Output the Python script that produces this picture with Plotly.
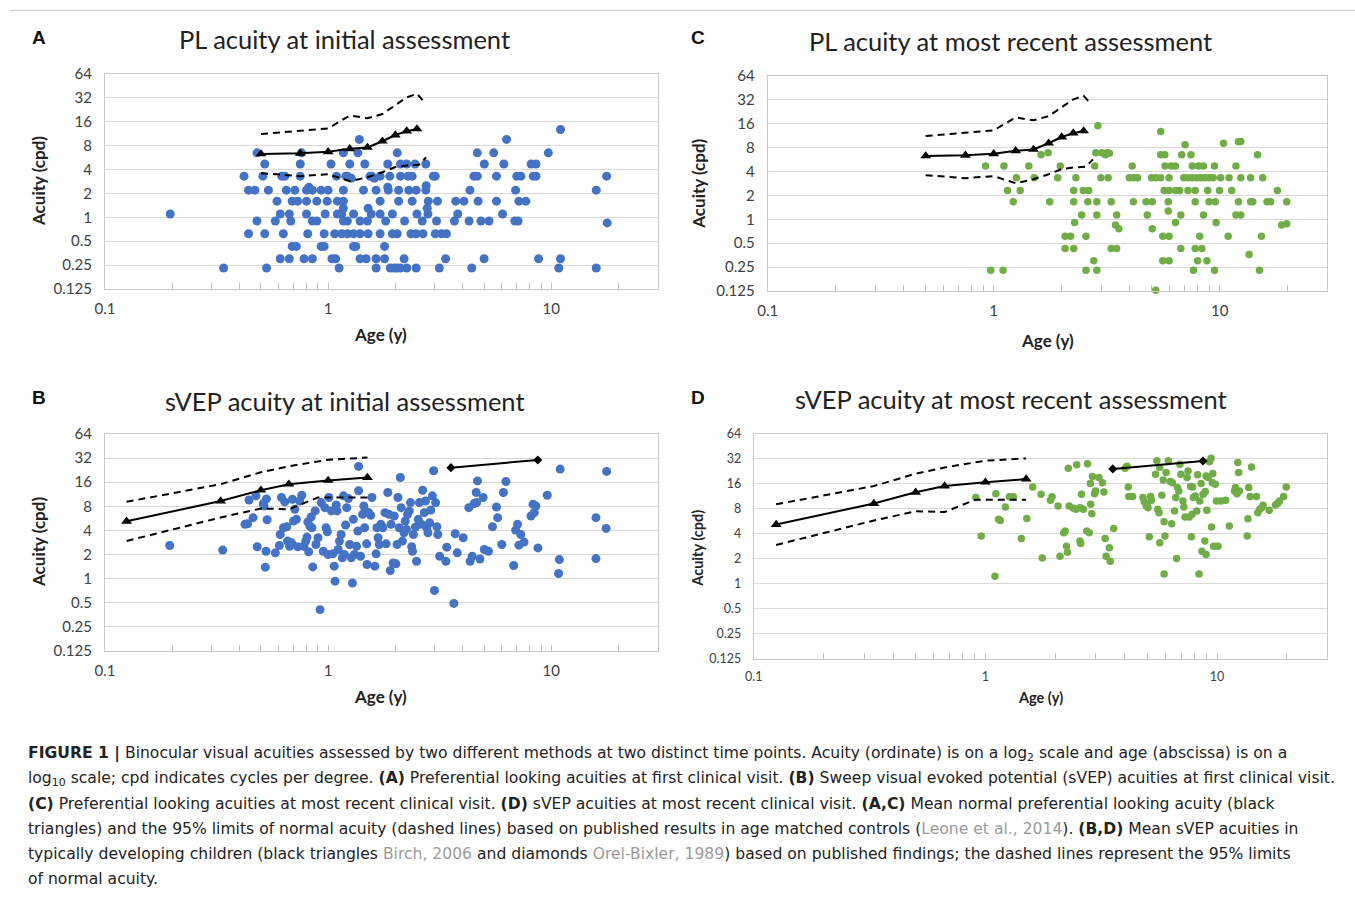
import plotly.graph_objects as go

W, H = 1355, 897

# ---------------- data ----------------
pl_norm_age = [0.5, 0.75, 1.0, 1.25, 1.5, 1.75, 2.0, 2.25, 2.5]
pl_norm_mean = [6.3, 6.4, 6.7, 7.3, 7.6, 9.1, 10.9, 12.2, 13.0]
pl_upper_age = [0.5, 1.0, 1.25, 1.5, 1.75, 2.25, 2.5, 2.65]
pl_upper = [11.2, 13.2, 19.2, 17.7, 20.0, 32.5, 36.0, 30.0]
pl_lower_age = [0.5, 0.75, 1.0, 1.25, 1.5, 1.75, 2.0, 2.25, 2.55, 2.75]
pl_lower = [3.6, 3.3, 3.5, 2.85, 3.2, 3.7, 4.3, 4.5, 4.6, 5.7]

svep_norm_age = [0.125, 0.33, 0.5, 0.667, 1.0, 1.5]
svep_norm_mean = [5.2, 9.3, 12.7, 15.1, 16.8, 18.3]
svep_upper = [9.1, 15.1, 21.3, 25.3, 30.5, 32.5]
svep_lower_age = [0.125, 0.33, 0.5, 0.667, 0.9, 1.5]
svep_lower = [2.95, 5.8, 7.5, 7.35, 10.3, 10.3]
orel_age = [3.55, 8.7]
orel_acuity = [24.3, 30.3]

a_age = [11.0,
         1.38, 6.3,
         0.48, 0.76, 1.17, 1.36, 2.04, 4.66, 5.52, 9.7,
         0.52, 0.75, 1.03, 1.25, 1.46, 1.85, 2.11, 2.25, 2.45, 2.74, 5.01, 6.13, 8.12, 8.54,
         0.42, 0.51, 0.62, 0.64, 0.75, 1.09, 1.2, 1.22, 1.54, 1.57, 1.71, 1.89, 2.11, 2.28, 2.38, 2.96, 3.02, 4.5, 4.66, 5.68, 7.0, 7.31, 8.3, 8.54, 17.7,
         1.27, 1.61,
         0.82, 1.85, 2.75,
         0.44, 0.47, 0.54, 0.65, 0.71, 0.8, 0.85, 0.93, 1.0, 1.17, 1.44, 1.64, 1.86, 2.07, 2.3, 2.48, 2.74, 4.32, 6.92, 15.9,
         0.59, 0.69, 0.73, 0.8, 0.89, 0.99, 1.1, 1.17, 1.71, 2.07, 2.38, 2.81, 3.09, 3.73, 4.06, 4.7, 5.68, 7.16, 7.69,
         1.17, 1.51, 2.78,
         0.196, 0.61, 0.67, 0.8, 0.97, 1.1, 1.15, 1.3, 1.56, 1.71, 1.94, 2.5, 2.8, 3.81, 6.05,
         0.48, 0.58, 0.68, 0.85, 0.89, 1.17, 1.22, 1.39, 1.5, 1.81, 2.2, 2.64, 3.06, 3.68, 4.28, 4.84, 5.26, 6.86, 7.1,
         17.8,
         0.44, 0.52, 0.63, 0.81, 0.96, 1.07, 1.15, 1.22, 1.3, 1.39, 1.51, 1.71, 1.94, 2.04, 2.35, 2.48, 2.66, 3.02, 3.22, 3.39,
         0.69, 0.72, 0.93, 0.96, 1.3, 1.33, 1.79,
         0.61, 0.67, 0.78, 0.85, 1.04, 1.08, 1.39, 1.48, 1.64, 1.79, 2.19, 3.36, 5.0, 8.77, 11.0,
         0.34, 0.53, 1.12, 1.64, 1.9, 1.98, 2.04, 2.11, 2.25, 2.48, 3.15, 4.4, 10.8, 15.9]
a_acu = [12.8,
         9.6, 9.6,
         6.5, 6.5, 6.5, 6.5, 6.5, 6.5, 6.5, 6.5,
         4.7, 4.7, 4.7, 4.7, 4.7, 4.7, 4.7, 4.7, 4.7, 4.7, 4.7, 4.7, 4.7, 4.7,
         3.3, 3.3, 3.3, 3.3, 3.3, 3.3, 3.3, 3.3, 3.3, 3.3, 3.3, 3.3, 3.3, 3.3, 3.3, 3.3, 3.3, 3.3, 3.3, 3.3, 3.3, 3.3, 3.3, 3.3, 3.3,
         3.1, 3.1,
         2.4, 2.4, 2.5,
         2.2, 2.2, 2.2, 2.2, 2.2, 2.2, 2.2, 2.2, 2.2, 2.2, 2.2, 2.2, 2.2, 2.2, 2.2, 2.2, 2.2, 2.2, 2.2, 2.2,
         1.6, 1.6, 1.6, 1.6, 1.6, 1.6, 1.6, 1.6, 1.6, 1.6, 1.6, 1.6, 1.6, 1.6, 1.6, 1.6, 1.6, 1.6, 1.6,
         1.3, 1.3, 1.3,
         1.1, 1.1, 1.1, 1.1, 1.1, 1.1, 1.1, 1.1, 1.1, 1.1, 1.1, 1.1, 1.1, 1.1, 1.1,
         0.9, 0.9, 0.9, 0.9, 0.9, 0.9, 0.9, 0.9, 0.9, 0.9, 0.9, 0.9, 0.9, 0.9, 0.9, 0.9, 0.9, 0.9, 0.9,
         0.85,
         0.62, 0.62, 0.62, 0.62, 0.62, 0.62, 0.62, 0.62, 0.62, 0.62, 0.62, 0.62, 0.62, 0.62, 0.62, 0.62, 0.62, 0.62, 0.62, 0.62,
         0.43, 0.43, 0.43, 0.43, 0.43, 0.43, 0.43,
         0.30, 0.30, 0.30, 0.30, 0.30, 0.30, 0.30, 0.30, 0.30, 0.30, 0.30, 0.30, 0.30, 0.30, 0.30,
         0.23, 0.23, 0.23, 0.23, 0.23, 0.23, 0.23, 0.23, 0.23, 0.23, 0.23, 0.23, 0.23, 0.23]

b_age = [0.195, 0.337, 0.424, 0.436, 0.442, 0.461, 0.475, 0.481, 0.512, 0.516, 0.527, 0.529, 0.533, 0.523,
         0.58, 0.605, 0.61, 0.618, 0.631, 0.639, 0.653, 0.658, 0.672, 0.686, 0.692, 0.7, 0.709, 0.721, 0.731,
         0.746, 0.762, 0.778, 0.794, 0.804, 0.811, 0.818, 0.828, 0.839, 0.846, 0.853, 0.875, 0.882, 0.901,
         0.92, 0.931, 0.951, 0.967, 0.979, 0.992, 1.0, 1.008, 1.034, 1.051, 1.065, 1.074, 1.087, 1.096, 1.11,
         1.124, 1.143, 1.158, 1.172, 1.182, 1.197, 1.212, 1.233, 1.249, 1.27, 1.285, 1.297, 1.313, 1.34, 1.358,
         1.369, 1.369, 1.397, 1.427, 1.445, 1.457, 1.47, 1.488, 1.494, 1.52, 1.552, 1.571, 1.619, 1.64, 1.653,
         1.674, 1.695, 1.723, 1.759, 1.797, 1.82, 1.85, 1.874, 1.898, 1.914, 1.955, 1.978, 2.012, 2.037, 2.055,
         2.081, 2.107, 2.124, 2.151, 2.187, 2.215, 2.243, 2.27, 2.31, 2.339, 2.368, 2.388, 2.409, 2.46, 2.49,
         2.535, 2.564, 2.618, 2.652, 2.697, 2.731, 2.766, 2.801, 2.848, 2.884, 2.933, 2.97, 2.995, 3.03, 3.07,
         3.1, 3.16, 3.37, 3.4, 3.66, 3.71, 3.79, 4.03, 4.27, 4.33, 4.42, 4.51, 4.63, 4.67, 4.61, 4.79, 4.95,
         5.01, 5.23, 5.45, 5.68, 5.75, 6.0, 6.1, 6.26, 6.78, 6.92, 7.06, 7.16, 7.3, 7.55, 8.11, 8.28, 8.39,
         8.53, 8.71, 9.59, 10.78, 10.87, 10.96, 15.85, 15.85, 17.6, 17.7]
b_acu = [2.59, 2.27, 4.76, 4.85, 9.6, 5.77, 10.8, 2.5, 8.64, 8.08, 2.2, 9.9, 5.44, 1.39,
         2.1, 2.59, 3.56, 10.3, 4.32, 9.07, 4.45, 2.94, 2.54, 2.8, 9.8, 5.24, 7.34, 5.5, 2.5,
         9.33, 11.0, 2.54, 2.94, 3.3, 5.09, 2.16, 4.53, 5.88, 4.32, 1.4, 7.0, 2.67, 3.24,
         0.41, 8.9, 2.2, 7.7, 4.32, 3.85, 2.0, 10.3, 7.0, 2.04, 1.43, 0.93, 8.3, 7.0, 2.31,
         2.94, 3.56, 1.82, 10.8, 2.0, 4.67, 7.7, 9.98, 2.67, 1.82, 0.88, 5.5, 2.0, 2.54, 3.92,
         25.2, 12.5, 1.9, 6.35, 8.08, 4.32, 7.0, 2.72, 1.5, 6.66, 6.17, 10.3, 1.43, 2.04, 4.32,
         3.24, 2.67, 4.76, 4.32, 6.66, 2.72, 11.9, 6.35, 1.26, 4.76, 1.57, 6.05, 1.53, 2.67, 10.3,
         4.32, 18.3, 7.7, 2.94, 3.74, 5.24, 4.12, 6.35, 7.0, 8.9, 2.5, 2.2, 3.56, 4.4, 1.65,
         5.5, 8.9, 4.76, 12.7, 6.66, 9.33, 4.32, 3.74, 4.99, 7.2, 10.8, 22.2, 0.71, 8.9, 4.45,
         3.56, 1.9, 1.65, 2.47, 0.49, 3.63, 2.1, 3.24, 7.7, 1.65, 1.9, 8.64, 8.9, 16.6, 11.9, 1.76, 10.3,
         2.31, 2.2, 4.45, 7.85, 5.77, 2.67, 11.9, 16.3, 1.46, 4.04, 4.76, 2.62, 3.56, 2.86, 6.05, 8.47, 6.66,
         8.08, 2.42, 11.0, 1.16, 1.73, 23.3, 5.77, 1.78, 4.24, 21.8]

c_age = [2.89, 5.48, 10.4, 12.1, 12.4, 7.03,
         1.62, 1.74, 2.83, 3.01, 3.17, 3.25, 3.12, 5.48, 5.72, 6.79, 7.46, 14.7,
         0.92, 1.11, 1.43, 1.97, 2.8, 4.1, 5.73, 6.1, 6.37, 7.56, 8.06, 8.48, 9.48, 11.8,
         1.26, 1.51, 1.92, 2.31, 2.98, 3.21, 3.98, 4.15, 4.33, 4.99, 5.21, 5.48, 5.97, 6.94, 7.24, 7.56,
         7.89, 8.23, 8.59, 8.97, 9.36, 10.1, 11.0, 12.4, 13.7, 15.5,
         1.15, 1.31, 2.26, 2.49, 2.63, 5.68, 5.97, 6.37, 6.65, 7.24, 7.79, 8.85, 9.98, 11.3, 18.0,
         1.22, 1.77, 2.26, 2.61, 2.86, 3.31, 4.15, 4.72, 5.03, 5.92, 7.79, 8.97, 9.56, 12.1, 13.7, 14.0,
         16.2, 16.8, 19.8,
         5.92,
         2.45, 2.86, 3.5, 4.78, 6.73, 8.48, 11.8, 12.4,
         2.28, 6.37, 9.64, 18.8, 19.8, 3.46, 3.58, 5.03,
         2.07, 2.19, 2.56, 5.6, 5.97, 8.16, 10.9, 15.3,
         2.07, 2.26, 3.31, 3.5, 6.73, 7.79, 8.34,
         2.77, 5.6, 5.97, 7.99, 8.78, 13.5,
         0.97, 1.1, 2.56, 2.86, 7.66, 9.48, 15.0,
         5.21]
c_acu = [15.1, 12.8, 9.1, 9.5, 9.6, 8.7,
         6.5, 6.9, 6.9, 6.9, 6.9, 6.8, 6.5, 6.5, 6.5, 6.5, 6.5, 6.5,
         4.7, 4.7, 4.7, 4.7, 4.7, 4.7, 4.7, 4.7, 4.7, 4.7, 4.7, 4.7, 4.7, 4.7,
         3.35, 3.35, 3.35, 3.35, 3.35, 3.35, 3.35, 3.35, 3.35, 3.35, 3.35, 3.35, 3.35, 3.35, 3.35, 3.35,
         3.35, 3.35, 3.35, 3.35, 3.35, 3.35, 3.35, 3.35, 3.35, 3.35,
         2.3, 2.3, 2.3, 2.3, 2.3, 2.3, 2.3, 2.3, 2.3, 2.3, 2.3, 2.3, 2.3, 2.3, 2.3,
         1.66, 1.66, 1.66, 1.66, 1.66, 1.66, 1.66, 1.66, 1.66, 1.66, 1.66, 1.66, 1.66, 1.66, 1.66, 1.66,
         1.66, 1.66, 1.66,
         1.27,
         1.13, 1.13, 1.13, 1.13, 1.13, 1.13, 1.13, 1.13,
         0.91, 0.91, 0.91, 0.85, 0.88, 0.85, 0.76, 0.76,
         0.61, 0.61, 0.61, 0.61, 0.61, 0.61, 0.61, 0.61,
         0.43, 0.43, 0.43, 0.43, 0.43, 0.43, 0.43,
         0.30, 0.30, 0.30, 0.30, 0.30, 0.36,
         0.228, 0.228, 0.228, 0.228, 0.228, 0.228, 0.228,
         0.128]

d_age = [0.91, 0.96, 1.10, 1.11, 1.14, 1.16, 1.22, 1.27, 1.32, 1.43, 1.51, 1.60, 1.74, 1.76, 1.91,
         1.94, 2.06, 2.10, 2.18, 2.21, 2.24, 2.26, 2.28, 2.30, 2.40, 2.46, 2.48, 2.56, 2.56, 2.58,
         2.60, 2.65, 2.74, 2.76, 2.81, 2.84, 2.85, 2.88, 2.90, 2.96, 2.99, 3.09, 3.20, 3.25, 3.29,
         3.32, 3.43, 3.46, 3.58, 4.01, 4.09, 4.14, 4.16, 4.32, 4.79, 4.85, 4.95, 5.00, 5.04, 5.10,
         5.17, 5.21, 5.43, 5.50, 5.55, 5.62, 5.66, 5.66, 5.78, 5.86, 5.91, 5.91, 5.96, 6.03, 6.16,
         6.29, 6.37, 6.42, 6.56, 6.64, 6.69, 6.75, 6.84, 6.92, 6.98, 7.13, 7.19, 7.28, 7.43, 7.50,
         7.59, 7.69, 7.75, 7.81, 7.85, 7.91, 8.05, 8.18, 8.25, 8.36, 8.43, 8.54, 8.61, 8.71, 8.86,
         8.90, 8.97, 8.97, 9.04, 9.16, 9.28, 9.43, 9.47, 9.55, 9.59, 9.67, 9.83, 9.95, 10.1, 10.4,
         10.9, 11.3, 11.9, 12.0, 12.2, 12.3, 12.4, 12.5, 13.5, 13.6, 13.7, 14.1, 13.9, 14.8, 15.0,
         15.3, 15.6, 15.8, 16.8, 17.9, 18.3, 18.6, 19.4, 19.9]
d_acu = [11.0, 3.77, 1.24, 12.2, 6.0, 5.83, 8.45, 11.2, 11.2, 3.53, 6.16, 14.7, 12.0, 2.06, 10.2,
         11.2, 8.69, 2.16, 4.14, 4.33, 2.85, 2.41, 24.8, 8.69, 8.14, 7.92, 27.2, 8.30, 3.28, 3.07,
         12.0, 7.92, 4.33, 28.0, 4.14, 16.2, 9.10, 7.02, 19.7, 12.2, 13.2, 19.1, 16.6, 12.8, 3.53,
         2.16, 2.72, 1.88, 4.67, 24.8, 26.2, 14.7, 11.3, 11.3, 11.0, 9.80, 8.69, 9.27, 8.30, 3.70,
         11.3, 10.2, 21.0, 30.4, 7.92, 7.22, 3.13, 25.3, 11.7, 17.8, 1.32, 5.62, 3.77, 22.0, 30.4,
         17.1, 5.31, 16.6, 7.56, 11.0, 2.02, 14.5, 13.2, 27.7, 21.0, 9.99, 8.45, 6.40, 19.1, 23.0,
         6.40, 14.9, 3.70, 6.89, 14.7, 11.0, 11.5, 7.56, 20.6, 1.32, 9.99, 16.2, 2.48, 12.0, 3.28,
         13.0, 2.26, 20.0, 7.70, 19.1, 29.6, 32.7, 4.84, 16.6, 21.4, 2.85, 15.9, 9.99, 2.85, 9.99,
         10.2, 4.98, 13.2, 14.5, 12.2, 29.0, 22.0, 13.2, 3.77, 6.11, 14.5, 25.7, 11.3, 11.3, 7.22,
         7.92, 8.30, 8.85, 7.70, 8.93, 9.36, 9.99, 11.3, 14.7]

y_ticks = [0.125, 0.25, 0.5, 1, 2, 4, 8, 16, 32, 64]
y_tick_text = ["0.125", "0.25", "0.5", "1", "2", "4", "8", "16", "32", "64"]
x_ticks = [0.1, 1, 10]
x_tick_text = ["0.1", "1", "10"]
x_minor = [0.2, 0.3, 0.4, 0.5, 0.6, 0.7, 0.8, 0.9, 2, 3, 4, 5, 6, 7, 8, 9, 20]

BLUE = "#4472C4"
GREEN = "#70AD47"

fig = go.Figure()

# page placement: the photographed page maps layout pixels with a small offset/scale
OX, SX, OY, SY = 9.0, 0.993, 9.0, 0.98


def px_x(p):
    return ((p - OX) / SX) / W


def px_y(p):
    return 1 - ((p - OY) / SY) / H


panels = {
    "A": ("x", "y", 104, 657, 73, 288),
    "C": ("x2", "y2", 767, 1327, 75, 290),
    "B": ("x3", "y3", 104, 657, 433, 650),
    "D": ("x4", "y4", 753, 1327, 433, 658),
}

scatter_sets = {
    "A": (a_age, a_acu, BLUE, 9),
    "B": (b_age, b_acu, BLUE, 9),
    "C": (c_age, c_acu, GREEN, 7.5),
    "D": (d_age, d_acu, GREEN, 7.5),
}

dash = "7px,5px"
for name, (xa, ya, *_r) in panels.items():
    ages, acus, col, sz = scatter_sets[name]
    fig.add_trace(go.Scatter(x=ages, y=acus, mode="markers", xaxis=xa, yaxis=ya,
                             marker=dict(color=col, size=sz, line=dict(width=0)),
                             cliponaxis=False, showlegend=False, hoverinfo="x+y"))
    if name in ("A", "C"):
        fig.add_trace(go.Scatter(x=pl_upper_age, y=pl_upper, mode="lines", xaxis=xa, yaxis=ya,
                                 line=dict(color="black", width=2, dash=dash), showlegend=False))
        fig.add_trace(go.Scatter(x=pl_lower_age, y=pl_lower, mode="lines", xaxis=xa, yaxis=ya,
                                 line=dict(color="black", width=2, dash=dash), showlegend=False))
        fig.add_trace(go.Scatter(x=pl_norm_age, y=pl_norm_mean, mode="lines+markers", xaxis=xa, yaxis=ya,
                                 line=dict(color="black", width=2),
                                 marker=dict(symbol="triangle-up", size=9.5, color="black"),
                                 showlegend=False))
    else:
        fig.add_trace(go.Scatter(x=svep_norm_age, y=svep_upper, mode="lines", xaxis=xa, yaxis=ya,
                                 line=dict(color="black", width=2, dash=dash), showlegend=False))
        fig.add_trace(go.Scatter(x=svep_lower_age, y=svep_lower, mode="lines", xaxis=xa, yaxis=ya,
                                 line=dict(color="black", width=2, dash=dash), showlegend=False))
        fig.add_trace(go.Scatter(x=svep_norm_age, y=svep_norm_mean, mode="lines+markers", xaxis=xa, yaxis=ya,
                                 line=dict(color="black", width=2),
                                 marker=dict(symbol="triangle-up", size=9.5, color="black"),
                                 showlegend=False))
        fig.add_trace(go.Scatter(x=orel_age, y=orel_acuity, mode="lines+markers", xaxis=xa, yaxis=ya,
                                 line=dict(color="black", width=2),
                                 marker=dict(symbol="diamond", size=7, color="black"),
                                 showlegend=False))

SANS = "Lato, Carlito, Calibri, sans-serif"
TICK_FONT = dict(family=SANS, size=15, color="#404040")
TICK_FONT_D = dict(family=SANS, size=12.5, color="#404040")
layout_axes = {}
for name, (xa, ya, x0, x1, yt, yb) in panels.items():
    xkey = "xaxis" + xa[1:]
    ykey = "yaxis" + ya[1:]
    tf = TICK_FONT_D if name == "D" else TICK_FONT
    layout_axes[xkey] = dict(
        type="log", range=[-1, 1.477], domain=[px_x(x0), px_x(x1)], anchor=ya,
        tickvals=x_ticks, ticktext=x_tick_text, ticks="inside", ticklen=6, tickcolor="#bfbfbf",
        showgrid=False, zeroline=False, showline=True, linecolor="#c8c8c8", linewidth=1, mirror=True,
        tickfont=tf, ticklabelstandoff=6,
        minor=dict(tickmode="array", tickvals=x_minor, ticks="inside", ticklen=6, tickcolor="#bfbfbf",
                   showgrid=False),
        fixedrange=True,
    )
    layout_axes[ykey] = dict(
        type="log", range=[-0.90309, 1.80618], domain=[px_y(yb), px_y(yt)], anchor=xa,
        tickvals=y_ticks, ticktext=y_tick_text, ticks="", showgrid=True, gridcolor="#d9d9d9",
        gridwidth=1, zeroline=False, showline=True, linecolor="#c8c8c8", linewidth=1, mirror=True,
        tickfont=tf, ticklabelstandoff=9, fixedrange=True,
    )

ann = []
TITLE_FONT = dict(family=SANS, size=25.5, color="#222222")
titles = [("PL acuity at initial assessment", 344, 38),
          ("PL acuity at most recent assessment", 1010, 40),
          ("sVEP acuity at initial assessment", 344, 400),
          ("sVEP acuity at most recent assessment", 1010, 398)]
for t, x, y in titles:
    ann.append(dict(text=t, x=px_x(x), y=px_y(y), xref="paper", yref="paper", showarrow=False,
                    xanchor="center", yanchor="middle", font=TITLE_FONT))

letters = [("A", 38, 37), ("C", 697, 37), ("B", 38, 397), ("D", 697, 397)]
for t, x, y in letters:
    ann.append(dict(text="<b>%s</b>" % t, x=px_x(x), y=px_y(y), xref="paper", yref="paper",
                    showarrow=False, xanchor="center", yanchor="middle",
                    font=dict(family="Liberation Sans, Arial, sans-serif", size=19, color="#111111")))

AX_FONT = dict(family=SANS, size=17, color="#222222")
AX_FONT_D = dict(family=SANS, size=14.5, color="#222222")
ax_titles = [("Age (y)", 380, 334, 0, AX_FONT), ("Acuity (cpd)", 38, 180, -90, AX_FONT),
             ("Age (y)", 1047, 340, 0, AX_FONT), ("Acuity (cpd)", 698, 183, -90, AX_FONT),
             ("Age (y)", 380, 696, 0, AX_FONT), ("Acuity (cpd)", 38, 541, -90, AX_FONT),
             ("Age (y)", 1040, 697, 0, AX_FONT_D), ("Acuity (cpd)", 697, 547, -90, AX_FONT_D)]
for t, x, y, ang, f in ax_titles:
    ann.append(dict(text="<b>%s</b>" % t, x=px_x(x), y=px_y(y), xref="paper", yref="paper",
                    showarrow=False, xanchor="center", yanchor="middle", textangle=ang, font=f))

GRAY = "<span style='color:#9a9a9a'>%s</span>"
caption_lines = [
    "<b>FIGURE 1 |</b> Binocular visual acuities assessed by two different methods at two distinct time points. "
    "Acuity (ordinate) is on a log<sub>2</sub> scale and age (abscissa) is on a",
    "log<sub>10</sub> scale; cpd indicates cycles per degree. <b>(A)</b> Preferential looking acuities at first "
    "clinical visit. <b>(B)</b> Sweep visual evoked potential (sVEP) acuities at first clinical visit.",
    "<b>(C)</b> Preferential looking acuities at most recent clinical visit. <b>(D)</b> sVEP acuities at most "
    "recent clinical visit. <b>(A,C)</b> Mean normal preferential looking acuity (black",
    "triangles) and the 95% limits of normal acuity (dashed lines) based on published results in age matched "
    "controls (" + GRAY % "Leone et al., 2014" + "). <b>(B,D)</b> Mean sVEP acuities in",
    "typically developing children (black triangles " + GRAY % "Birch, 2006" + " and diamonds "
    + GRAY % "Orel-Bixler, 1989" + ") based on published findings; the dashed lines represent the 95% limits",
    "of normal acuity.",
]
cap_y = [753, 778, 803, 828, 853, 878]
for t, y in zip(caption_lines, cap_y):
    ann.append(dict(text=t, x=px_x(25), y=px_y(y), xref="paper", yref="paper", showarrow=False,
                    xanchor="left", yanchor="middle",
                    font=dict(family="DejaVu Sans, sans-serif", size=15.6, color="#222222")))

fig.update_layout(
    width=W, height=H, margin=dict(l=0, r=0, t=0, b=0),
    paper_bgcolor="white", plot_bgcolor="white",
    showlegend=False, annotations=ann,
    shapes=[dict(type="line", xref="paper", yref="paper", x0=0, x1=1, y0=1 - 0.5 / H, y1=1 - 0.5 / H,
                 line=dict(color="#c8c8c8", width=1))],
    **layout_axes,
)

fig.write_html("out.html", config={"displayModeBar": False},
               post_script="document.body.style.margin='0px';document.body.style.padding='0px';")
